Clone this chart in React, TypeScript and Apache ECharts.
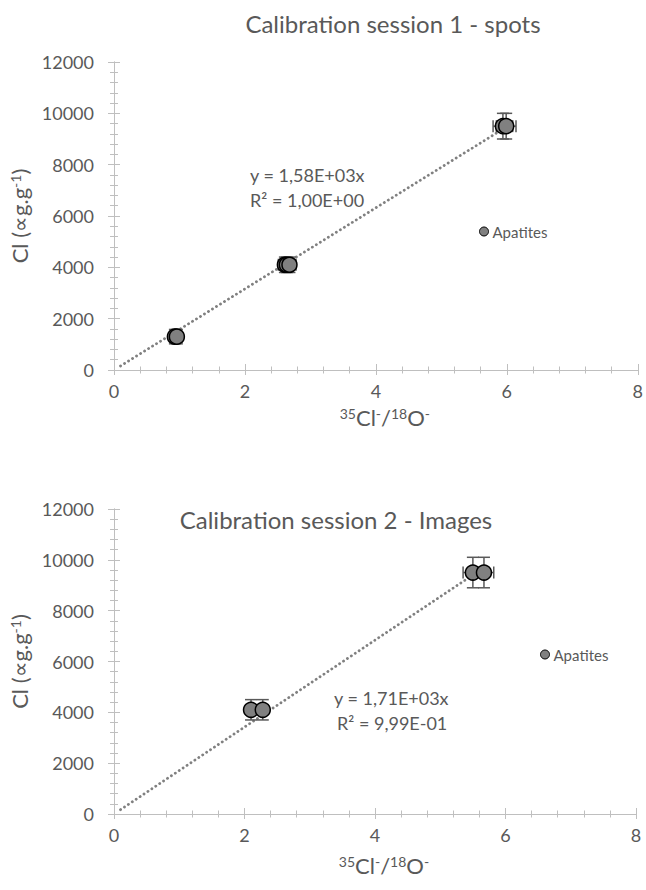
import React, { useEffect, useRef } from "react";
import * as echarts from "echarts";

// ---- Data ----
const s1X = [0.93, 0.96, 2.61, 2.64, 2.68, 5.94, 5.99];
const s1Y = [1300, 1300, 4100, 4100, 4100, 9500, 9500];
const s1XErr = [0.08, 0.08, 0.1, 0.1, 0.1, 0.15, 0.15];
const s1YErr = [280, 280, 300, 300, 300, 500, 500];
const s1TrendX = [0.1, 6.0];
const s1Slope = 1580;

const s2X = [2.1, 2.28, 5.5, 5.67];
const s2Y = [4100, 4100, 9500, 9500];
const s2XErr = [0.05, 0.05, 0.15, 0.15];
const s2YErr = [400, 400, 600, 600];
const s2TrendX = [0.1, 5.55];
const s2Slope = 1710;

const xTicks = [0, 2, 4, 6, 8];
const yTicks = [0, 2000, 4000, 6000, 8000, 10000, 12000];

const titles = ["Calibration session 1 - spots", "Calibration session 2 - Images"];
const eq1 = ["y = 1,58E+03x", "R² = 1,00E+00"];
const eq2 = ["y = 1,71E+03x", "R² = 9,99E-01"];
const seriesName = "Apatites";

const FONT = "Lato, 'Open Sans', sans-serif";
const TXT = "#595959";
const AXIS = "#bfbfbf";

const nameRich = {
  a: { fontSize: 22, fontFamily: FONT, color: TXT },
  s: { fontSize: 14, fontFamily: FONT, color: TXT, verticalAlign: "top" as const, padding: [0, 0, 9, 0] },
};

function xAxes(gridIndex: number, nameGap: number) {
  const base = {
    type: "value" as const,
    gridIndex,
    min: xTicks[0],
    max: xTicks[xTicks.length - 1],
    interval: xTicks[1] - xTicks[0],
    position: "bottom" as const,
    splitLine: { show: false },
    axisLine: { onZero: false, show: true, lineStyle: { color: AXIS, width: 1 } },
    minorTick: { show: true, splitNumber: 5, length: 3.5, lineStyle: { color: AXIS } },
  };
  return [
    {
      ...base,
      axisTick: { show: true, length: 5, lineStyle: { color: AXIS } },
      axisLabel: { color: TXT, fontSize: 18, fontFamily: FONT, margin: 12, formatter: (v: number) => String(v) },
      name: "{s|35}{a|Cl}{s|-}{a|/}{s|18}{a|O}{s|-}",
      nameLocation: "middle" as const,
      nameGap,
      nameTextStyle: { rich: nameRich, padding: [0, 0, 0, 18] },
    },
    {
      ...base,
      axisTick: { show: true, inside: true, length: 6, lineStyle: { color: AXIS } },
      axisLabel: { show: false },
    },
  ];
}

function yAxes(gridIndex: number) {
  const base = {
    type: "value" as const,
    gridIndex,
    min: yTicks[0],
    max: yTicks[yTicks.length - 1],
    interval: yTicks[1] - yTicks[0],
    position: "left" as const,
    splitLine: { show: false },
    axisLine: { onZero: false, show: true, lineStyle: { color: AXIS, width: 1 } },
    minorTick: { show: true, splitNumber: 5, length: 4, lineStyle: { color: AXIS } },
  };
  return [
    {
      ...base,
      axisTick: { show: true, length: 6, lineStyle: { color: AXIS } },
      axisLabel: { color: TXT, fontSize: 18, fontFamily: FONT, margin: 20, formatter: (v: number) => String(v) },
      name: "{a|Cl (∝g.g}{s|-1}{a|)}",
      nameLocation: "middle" as const,
      nameGap: 80,
      nameTextStyle: { rich: nameRich },
    },
    {
      ...base,
      axisTick: { show: true, inside: true, length: 6, lineStyle: { color: AXIS } },
      axisLabel: { show: false },
    },
  ];
}

function errorSeries(xs: number[], ys: number[], xe: number[], ye: number[], axisIdx: number) {
  return {
    type: "custom" as const,
    xAxisIndex: axisIdx,
    yAxisIndex: axisIdx,
    z: 2,
    silent: true,
    encode: { x: 0, y: 1 },
    data: xs.map((x, i) => [x, ys[i], xe[i], ye[i]]),
    renderItem: (_p: any, api: any) => {
      const x = api.value(0);
      const y = api.value(1);
      const dx = api.value(2);
      const dy = api.value(3);
      const top = api.coord([x, y + dy]);
      const bot = api.coord([x, y - dy]);
      const l = api.coord([x - dx, y]);
      const r = api.coord([x + dx, y]);
      const cap = 6;
      const st = { stroke: "#595959", lineWidth: 1.5 };
      return {
        type: "group",
        children: [
          { type: "line", shape: { x1: top[0], y1: top[1], x2: bot[0], y2: bot[1] }, style: st },
          { type: "line", shape: { x1: top[0] - cap, y1: top[1], x2: top[0] + cap, y2: top[1] }, style: st },
          { type: "line", shape: { x1: bot[0] - cap, y1: bot[1], x2: bot[0] + cap, y2: bot[1] }, style: st },
          { type: "line", shape: { x1: l[0], y1: l[1], x2: r[0], y2: r[1] }, style: st },
          { type: "line", shape: { x1: l[0], y1: l[1] - cap, x2: l[0], y2: l[1] + cap }, style: st },
          { type: "line", shape: { x1: r[0], y1: r[1] - cap, x2: r[0], y2: r[1] + cap }, style: st },
        ],
      };
    },
  };
}

function trendSeries(tx: number[], slope: number, axisIdx: number) {
  return {
    type: "line" as const,
    xAxisIndex: axisIdx,
    yAxisIndex: axisIdx,
    z: 1,
    silent: true,
    symbol: "none",
    data: tx.map((x) => [x, slope * x]),
    lineStyle: { color: "#808080", width: 2.8, type: [0.1, 4.6], cap: "round" as const },
  };
}

function scatterSeries(xs: number[], ys: number[], axisIdx: number) {
  return {
    type: "scatter" as const,
    name: seriesName,
    xAxisIndex: axisIdx,
    yAxisIndex: axisIdx,
    z: 3,
    symbol: "circle",
    symbolSize: 15,
    data: xs.map((x, i) => [x, ys[i]]),
    itemStyle: { color: "#808080", borderColor: "#000000", borderWidth: 1.5, opacity: 1 },
  };
}

function txt(text: string, x: number, y: number, size: number, align: string = "left") {
  return {
    type: "text" as const,
    x,
    y,
    silent: true,
    style: { text, fill: TXT, fontSize: size, fontFamily: FONT, align, verticalAlign: "middle" },
  };
}

export default function App() {
  const ref = useRef<HTMLDivElement>(null);
  useEffect(() => {
    if (!ref.current) return;
    const chart = echarts.init(ref.current, undefined, { renderer: "svg" });
    const legendBase = {
      data: [seriesName],
      selectedMode: false,
      icon: "circle",
      itemWidth: 9,
      itemHeight: 9,
      padding: 0,
      itemStyle: { color: "#808080", borderColor: "#000000", borderWidth: 1 },
      textStyle: { color: TXT, fontSize: 15, fontFamily: FONT, padding: [0, 0, 0, -1] },
      orient: "horizontal" as const,
    };
    chart.setOption({
      animation: false,
      backgroundColor: "#ffffff",
      grid: [
        { left: 114, top: 62, width: 526, height: 308 },
        { left: 114, top: 509, width: 522, height: 305 },
      ],
      xAxis: [...xAxes(0, 36), ...xAxes(1, 40)],
      yAxis: [...yAxes(0), ...yAxes(1)],
      legend: [
        { ...legendBase, left: 479, top: 224 },
        { ...legendBase, left: 540, top: 647 },
      ],
      graphic: [
        txt(titles[0], 393, 23, 24, "center"),
        txt(titles[1], 336, 519, 24, "center"),
        txt(eq1[0], 250, 175, 18),
        txt(eq1[1], 250, 200, 18),
        txt(eq2[0], 334, 698, 18),
        txt(eq2[1], 337, 723, 18),
      ],
      series: [
        trendSeries(s1TrendX, s1Slope, 0),
        errorSeries(s1X, s1Y, s1XErr, s1YErr, 0),
        scatterSeries(s1X, s1Y, 0),
        trendSeries(s2TrendX, s2Slope, 2),
        errorSeries(s2X, s2Y, s2XErr, s2YErr, 2),
        scatterSeries(s2X, s2Y, 2),
      ],
    });
    return () => chart.dispose();
  }, []);
  return (
    <div
      ref={ref}
      style={{ position: "absolute", left: 0, top: 0, width: 646, height: 890, background: "#fff" }}
    />
  );
}
